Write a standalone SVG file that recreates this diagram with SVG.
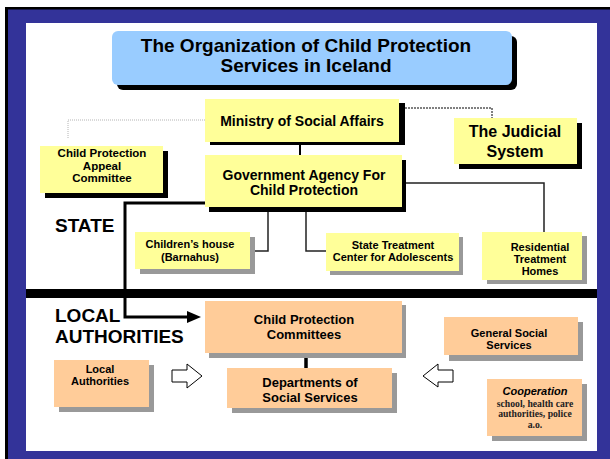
<svg xmlns="http://www.w3.org/2000/svg" width="610" height="459" viewBox="0 0 610 459">
<style>
.t{font-family:"Liberation Sans",Arial,sans-serif;font-weight:bold;fill:#000;text-anchor:middle}
.y{fill:#FFFF99}
.o{fill:#FFCC99}
.bs{fill:#000}
.gs{fill:#999999}
.ln{fill:none;stroke:#000}
</style>
<rect x="5" y="7" width="605" height="452" fill="#000"/>
<rect x="8" y="9.5" width="602" height="449.5" fill="#333399"/>
<rect x="26" y="23" width="571" height="428" fill="#fff"/>
<rect x="26" y="289" width="571" height="9" fill="#000"/>
<text class="t" x="55" y="232" font-size="19" style="text-anchor:start">STATE</text>
<text class="t" x="55" y="322" font-size="19" style="text-anchor:start">LOCAL</text>
<text class="t" x="55" y="343" font-size="19" style="text-anchor:start">AUTHORITIES</text>

<g id="connectors">
<path class="ln" d="M68 138 V120 H205" stroke-width="1" stroke-dasharray="1 1" style="stroke:#b4b4b4"/>
<path class="ln" d="M405 108 H492 V118" stroke-width="1" stroke-dasharray="2 1"/>
<path class="ln" d="M300 145 V155" stroke-width="2"/>
<path class="ln" d="M406 183 H544 V232" stroke-width="1.5" style="stroke:#222"/>
<path class="ln" d="M268 212 V251 H250" stroke-width="1.5" style="stroke:#222"/>
<path class="ln" d="M306 212 V251 H326" stroke-width="1.5" style="stroke:#222"/>
<path class="ln" d="M207 203 H125 V317 H188" stroke-width="3"/>
<polygon points="187,311 201,317 187,323" fill="#000"/>
<path class="ln" d="M306 358 V368" stroke-width="3.5"/>
<polygon points="172,370 187,370 187,364 202,376 187,388 187,382 172,382" fill="#fff" stroke="#000" stroke-width="1"/>
<polygon points="453,370 438,370 438,364 423,376 438,387 438,382 453,382" fill="#fff" stroke="#000" stroke-width="1"/>
</g>

<g id="title">
<rect x="117" y="36" width="400" height="54" rx="6" class="bs"/>
<rect x="112" y="31" width="400" height="54" rx="6" fill="#99CCFF"/>
<text class="t" x="306" y="52" font-size="19">The Organization of Child Protection</text>
<text class="t" x="306" y="72" font-size="19">Services in Iceland</text>
</g>

<g id="ministry">
<rect x="210" y="103" width="195" height="42" class="bs"/>
<rect x="205" y="99" width="194" height="43" class="y"/>
<text class="t" x="302" y="126" font-size="14">Ministry of Social Affairs</text>
</g>

<g id="judicial">
<rect x="459" y="123" width="123" height="46" class="bs"/>
<rect x="454" y="118" width="123" height="46" class="y"/>
<text class="t" x="515" y="137" font-size="16">The Judicial</text>
<text class="t" x="515" y="157" font-size="16">System</text>
</g>

<g id="appeal">
<rect x="45" y="151" width="123" height="47" class="bs"/>
<rect x="40" y="146" width="123" height="47" class="y"/>
<text class="t" x="102" y="157" font-size="11.5">Child Protection</text>
<text class="t" x="102" y="170" font-size="11.5">Appeal</text>
<text class="t" x="102" y="182" font-size="11.5">Committee</text>
</g>

<g id="agency">
<rect x="209" y="160" width="197" height="52" class="bs"/>
<rect x="205" y="155" width="197" height="52" class="y"/>
<text class="t" x="304" y="180" font-size="14">Government Agency For</text>
<text class="t" x="304" y="195" font-size="14">Child Protection</text>
</g>

<g id="childrens-house">
<rect x="140" y="237" width="115" height="37" class="gs"/>
<rect x="135" y="232" width="115" height="37" class="y"/>
<text class="t" x="190" y="248" font-size="11">Children’s house</text>
<text class="t" x="190" y="261" font-size="11">(Barnahus)</text>
</g>

<g id="state-treatment">
<rect x="330" y="237" width="133" height="38" class="gs"/>
<rect x="326" y="233" width="133" height="38" class="y"/>
<text class="t" x="393" y="249" font-size="11">State Treatment</text>
<text class="t" x="393" y="261" font-size="11">Center for Adolescents</text>
</g>

<g id="residential">
<rect x="487" y="236" width="100" height="48" class="gs"/>
<rect x="482" y="232" width="100" height="48" class="y"/>
<text class="t" x="540" y="251" font-size="11">Residential</text>
<text class="t" x="540" y="263" font-size="11">Treatment</text>
<text class="t" x="540" y="275" font-size="11">Homes</text>
</g>

<g id="cpc">
<rect x="209" y="305" width="197" height="53" class="gs"/>
<rect x="205" y="301" width="197" height="52" class="o"/>
<text class="t" x="304" y="324" font-size="13">Child Protection</text>
<text class="t" x="304" y="339" font-size="13">Committees</text>
</g>

<g id="departments">
<rect x="232" y="373" width="165" height="40" class="gs"/>
<rect x="227" y="368" width="165" height="40" class="o"/>
<text class="t" x="310" y="387" font-size="13">Departments of</text>
<text class="t" x="310" y="402" font-size="13">Social Services</text>
</g>

<g id="local-authorities">
<rect x="59" y="365" width="95" height="47" class="gs"/>
<rect x="54" y="360" width="95" height="47" class="o"/>
<text class="t" x="100" y="373" font-size="11">Local</text>
<text class="t" x="100" y="385" font-size="11">Authorities</text>
</g>

<g id="general-social">
<rect x="449" y="322" width="134" height="39" class="gs"/>
<rect x="444" y="317" width="134" height="38" class="o"/>
<text class="t" x="509" y="337" font-size="11">General Social</text>
<text class="t" x="509" y="349" font-size="11">Services</text>
</g>

<g id="cooperation">
<rect x="492" y="384" width="95" height="57" class="gs"/>
<rect x="487" y="379" width="95" height="57" class="o"/>
<text class="t" x="535" y="395" font-size="11" font-style="italic">Cooperation</text>
<text x="535" y="407" font-size="9.7" font-weight="bold" text-anchor="middle" font-family="'Liberation Serif','Times New Roman',serif" fill="#222">school, health care</text>
<text x="535" y="417" font-size="9.7" font-weight="bold" text-anchor="middle" font-family="'Liberation Serif','Times New Roman',serif" fill="#222">authorities, police</text>
<text x="535" y="428" font-size="9.7" font-weight="bold" text-anchor="middle" font-family="'Liberation Serif','Times New Roman',serif" fill="#222">a.o.</text>
</g>
</svg>
